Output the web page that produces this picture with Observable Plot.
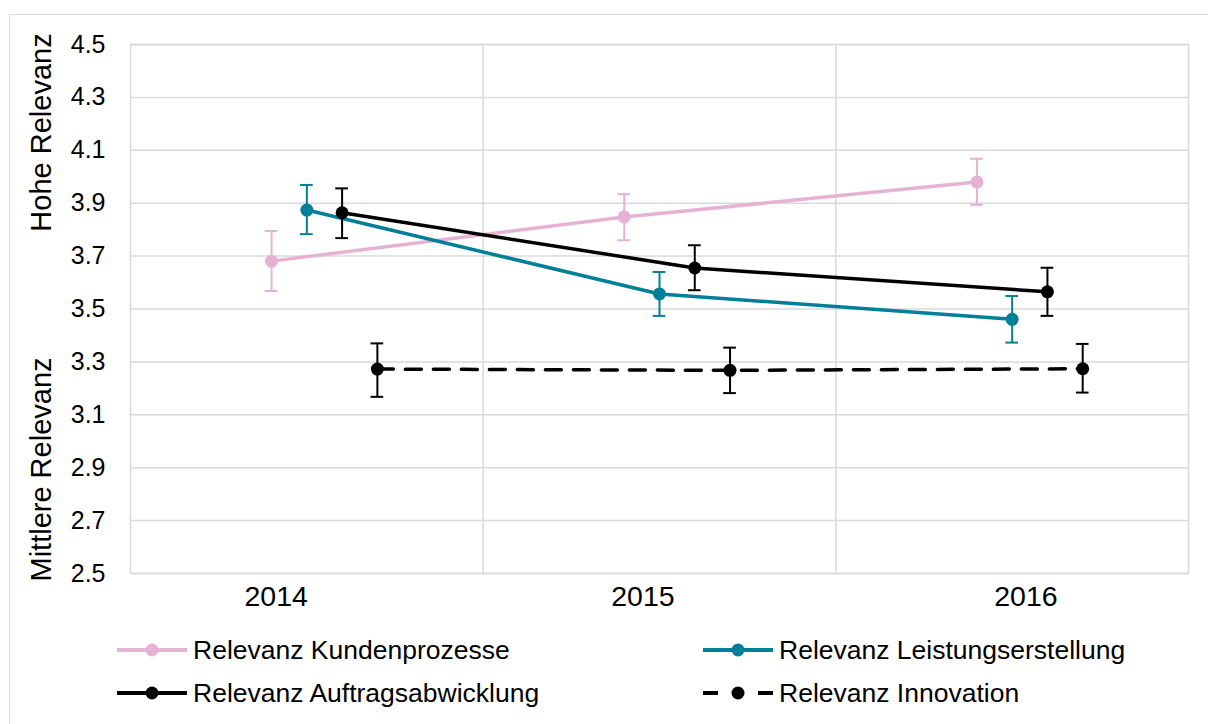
<!DOCTYPE html>
<html>
<head>
<meta charset="utf-8">
<script src="https://cdn.jsdelivr.net/npm/d3@7"></script>
<script src="https://cdn.jsdelivr.net/npm/@observablehq/plot@0.6"></script>
<style>
  html, body { margin: 0; padding: 0; background: #fff; overflow: hidden; }
  body { width: 1208px; height: 724px; position: relative; font-family: "Liberation Sans", Arial, sans-serif; }
  #frame { position: absolute; left: 9px; top: 14px; width: 1300px; height: 800px; border: 1.5px solid #d9d9d9; box-sizing: border-box; }
  #chart { position: absolute; left: 0; top: 0; }
  .leg { position: absolute; display: flex; align-items: center; height: 30px; font-size: 26.5px; color: #000; white-space: nowrap; }
  .leg svg { display: block; margin-right: 6px; }
</style>
</head>
<body>
<div id="frame"></div>
<div id="chart"></div>
<div id="legend"></div>
<script>
// ---- data ----
const years = [2014, 2015, 2016];
const yearLabels = ["2014", "2015", "2016"];
const seriesNames = ["Relevanz Kundenprozesse", "Relevanz Leistungserstellung", "Relevanz Auftragsabwicklung", "Relevanz Innovation"];
const kundenMean = [3.681, 3.848, 3.980];
const kundenLow  = [3.568, 3.760, 3.894];
const kundenHigh = [3.795, 3.934, 4.068];
const leistungMean = [3.874, 3.557, 3.461];
const leistungLow  = [3.783, 3.474, 3.373];
const leistungHigh = [3.969, 3.640, 3.549];
const auftragMean = [3.864, 3.655, 3.565];
const auftragLow  = [3.768, 3.571, 3.474];
const auftragHigh = [3.956, 3.741, 3.656];
const innovationMean = [3.273, 3.268, 3.274];
const innovationLow  = [3.168, 3.182, 3.184];
const innovationHigh = [3.370, 3.354, 3.368];
const yTicks = [2.5, 2.7, 2.9, 3.1, 3.3, 3.5, 3.7, 3.9, 4.1, 4.3, 4.5];
const axisTitles = ["Hohe Relevanz", "Mittlere Relevanz"];

// ---- layout / style ----
const seriesOffset = [-0.1, 0, 0.1, 0.2];            // dodge within a year
const yearLabelShift = [-0.087, -0.047, 0.039];       // label placement as in reference
const colors = ["#e6b2d4", "#007f98", "#000000", "#000000"];
const dashes = [null, null, null, "16,12"];
const capHalf = 0.018;

const means = [kundenMean, leistungMean, auftragMean, innovationMean];
const lows = [kundenLow, leistungLow, auftragLow, innovationLow];
const highs = [kundenHigh, leistungHigh, auftragHigh, innovationHigh];

const seriesData = seriesNames.map((name, si) => years.map((yr, i) => ({
  series: name,
  x: yr + seriesOffset[si],
  mean: means[si][i],
  low: lows[si][i],
  high: highs[si][i]
})));

const grid = "#d9d9d9";
const marks = [
  Plot.ruleY(yTicks, {stroke: grid, strokeWidth: 1.5}),
  Plot.ruleX(years.slice(0, -1).map(y => y + 0.5), {stroke: grid, strokeWidth: 1.5}),
  Plot.frame({stroke: grid, strokeWidth: 1.5}),
  Plot.axisY(yTicks, {tickSize: 0, tickPadding: 25, tickFormat: d3.format(".1f"), fontSize: 25, fill: "#000", label: null}),
  Plot.axisX(years.map((y, i) => y + yearLabelShift[i]), {tickSize: 0, tickPadding: 12, tickFormat: (d, i) => yearLabels[i], fontSize: 28.5, fill: "#000", label: null}),
  Plot.text([axisTitles[0]], {frameAnchor: "top-left", dx: -89, dy: 88, rotate: -90, fontSize: 29, fill: "#000", textAnchor: "middle", lineAnchor: "middle"}),
  Plot.text([axisTitles[1]], {frameAnchor: "bottom-left", dx: -89, dy: -104, rotate: -90, fontSize: 29, fill: "#000", textAnchor: "middle", lineAnchor: "middle"})
];

seriesData.forEach((rows, si) => {
  marks.push(Plot.line(rows, {x: "x", y: "mean", stroke: colors[si], strokeWidth: 3.5, strokeDasharray: dashes[si] || undefined, curve: "linear"}));
});
seriesData.forEach((rows, si) => {
  marks.push(Plot.ruleX(rows, {x: "x", y1: "low", y2: "high", stroke: colors[si], strokeWidth: 2}));
  marks.push(Plot.ruleY(rows, {y: "low", x1: d => d.x - capHalf, x2: d => d.x + capHalf, stroke: colors[si], strokeWidth: 2}));
  marks.push(Plot.ruleY(rows, {y: "high", x1: d => d.x - capHalf, x2: d => d.x + capHalf, stroke: colors[si], strokeWidth: 2}));
  marks.push(Plot.dot(rows, {x: "x", y: "mean", r: 6.5, fill: colors[si], stroke: "none"}));
});

const chart = Plot.plot({
  width: 1208,
  height: 620,
  marginLeft: 130,
  marginRight: 20,
  marginTop: 44,
  marginBottom: 47,
  style: {fontFamily: "'Liberation Sans', Arial, sans-serif", background: "transparent", overflow: "visible"},
  x: {type: "linear", domain: [2013.5, 2016.5], axis: null},
  y: {domain: [2.5, 4.5], axis: null},
  marks
});
document.getElementById("chart").appendChild(chart);

// ---- legend ----
const legendPos = [
  {left: 117, top: 635},
  {left: 703, top: 635},
  {left: 117, top: 678},
  {left: 703, top: 678}
];
const legend = document.getElementById("legend");
seriesNames.forEach((name, si) => {
  const div = document.createElement("div");
  div.className = "leg";
  div.style.left = legendPos[si].left + "px";
  div.style.top = legendPos[si].top + "px";
  const dash = dashes[si];
  const line = dash
    ? `<line x1="0" y1="15" x2="15" y2="15" stroke="${colors[si]}" stroke-width="4"/><line x1="55" y1="15" x2="70" y2="15" stroke="${colors[si]}" stroke-width="4"/>`
    : `<line x1="0" y1="15" x2="70" y2="15" stroke="${colors[si]}" stroke-width="4"/>`;
  div.innerHTML = `<svg width="70" height="30">${line}<circle cx="35" cy="15" r="6.5" fill="${colors[si]}"/></svg><span>${name}</span>`;
  legend.appendChild(div);
});
</script>
</body>
</html>
